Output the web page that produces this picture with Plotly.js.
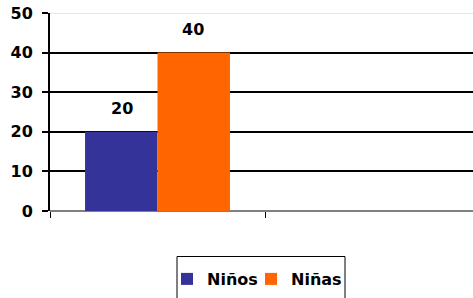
<!DOCTYPE html>
<html>
<head>
<meta charset="utf-8">
<script src="https://cdn.plot.ly/plotly-3.0.1.min.js"></script>
<style>
html,body{margin:0;padding:0;overflow:hidden;background:#fff;}
#chart{width:481px;height:298px;}
</style>
</head>
<body>
<div id="chart"></div>
<script>
const categories = ["Total", " "];
const seriesNames = ["Niños", "Niñas"];
const ninos = [20, null];
const ninas = [40, null];
const colors = ["#333399", "#FF6600"];
const yTicks = [0, 10, 20, 30, 40, 50];

const series = [ninos, ninas];
const traces = series.map((vals, i) => ({
  type: "bar",
  name: seriesNames[i],
  x: categories,
  y: vals,
  offsetgroup: "g" + i,
  marker: {color: colors[i], line: {width: 0}},
  hoverinfo: "none"
}));
// invisible spacer legend entry (shares the second slot) so the last label is not clipped
traces.push({
  type: "bar", name: " ", x: categories, y: [null, null],
  offsetgroup: "g1", showlegend: true,
  marker: {color: "rgba(0,0,0,0)", line: {width: 0}}, hoverinfo: "none"
});

const shifts = [-36, 35];
const annotations = [];
series.forEach((vals, i) => {
  vals.forEach((v, j) => {
    if (v !== null) {
      annotations.push({
        x: categories[j], y: v, xref: "x", yref: "y",
        text: String(v), showarrow: false,
        xshift: shifts[i], yshift: 23,
        font: {family: "DejaVu Sans", size: 16, weight: 700, color: "#000"}
      });
    }
  });
});

// plot area: x 50..480 (430px), y 13..211 (198px)
const px = v => (v - 50) / 430;
const py = v => (211 - v) / 198;

const layout = {
  width: 481, height: 298,
  margin: {l: 50, r: 1, t: 13, b: 87, pad: 0},
  paper_bgcolor: "#fff", plot_bgcolor: "#fff",
  barmode: "group", bargap: 0.326, bargroupgap: 0,
  showlegend: true,
  legend: {
    orientation: "h", xref: "container", yref: "container",
    x: 167/481, xanchor: "left", y: 1 - 262/298, yanchor: "top",
    borderwidth: 0, bgcolor: "rgba(0,0,0,0)",
    font: {family: "DejaVu Sans", size: 16, weight: 700, color: "#000"},
    entrywidth: 39, entrywidthmode: "pixels", tracegroupgap: 0
  },
  xaxis: {
    type: "category", showticklabels: false, tickson: "boundaries",
    range: [-0.5, 1.5],
    ticks: "outside", ticklen: 6, tickcolor: "#000", tickwidth: 1,
    showgrid: false, showline: false, zeroline: false, fixedrange: true
  },
  yaxis: {
    range: [0, 50], tickvals: yTicks, ticks: "outside", ticklen: 6,
    tickcolor: "#000", tickwidth: 2, ticklabelstandoff: 6,
    showline: true, linecolor: "#000", linewidth: 2,
    showgrid: true, gridcolor: "#000", gridwidth: 2,
    zeroline: true, zerolinecolor: "#808080", zerolinewidth: 2,
    tickfont: {family: "DejaVu Sans", size: 16, weight: 700, color: "#000"},
    fixedrange: true
  },
  shapes: [
    {
      type: "line", xref: "paper", yref: "y", x0: 0, x1: 1, y0: 50, y1: 50,
      line: {color: "#e6e6e6", width: 2}, layer: "above"
    },
    {
      type: "rect", xref: "paper", yref: "paper",
      x0: px(177), x1: px(345), y0: py(256.5), y1: py(310),
      line: {color: "#000", width: 1}, fillcolor: "rgba(0,0,0,0)", layer: "below"
    }
  ],
  annotations: annotations
};

Plotly.newPlot("chart", traces, layout, {displayModeBar: false, staticPlot: true});
</script>
</body>
</html>
